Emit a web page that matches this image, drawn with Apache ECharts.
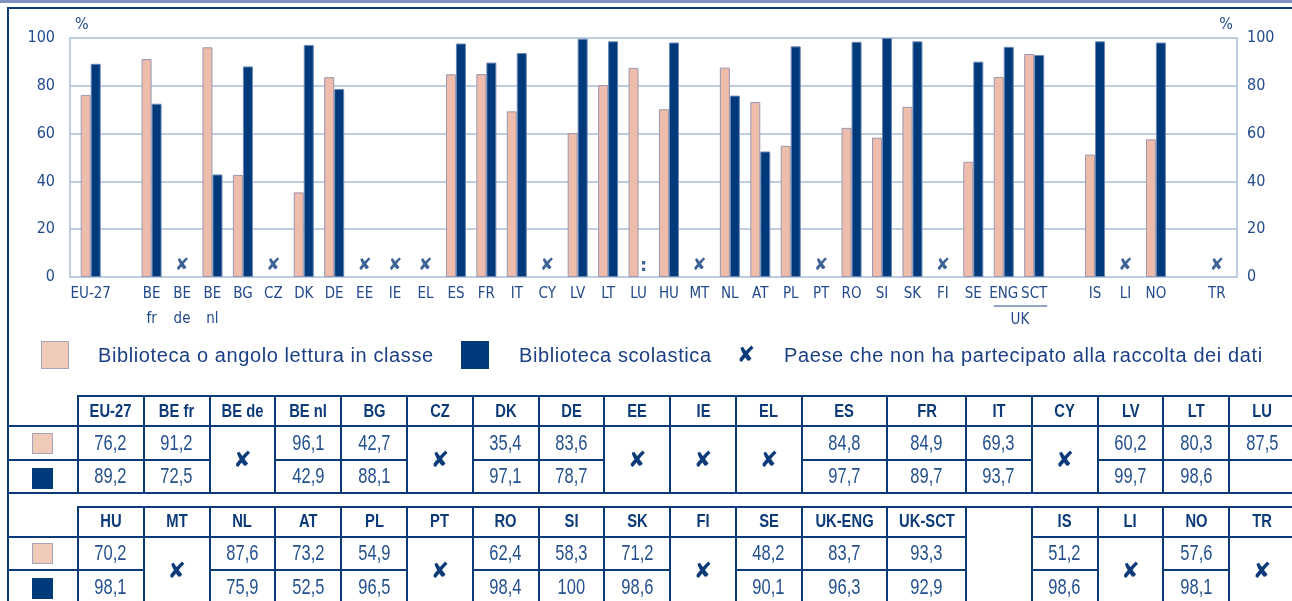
<!DOCTYPE html>
<html>
<head>
<meta charset="utf-8">
<script src="https://cdn.jsdelivr.net/npm/echarts@6/dist/echarts.min.js"></script>
<style>
  html, body { margin: 0; padding: 0; background: #fff; }
  body { width: 1292px; height: 601px; position: relative; overflow: hidden; }
  #chart { position: absolute; left: 0; top: 0; width: 1292px; height: 601px; }
  .ov { position: absolute; }
  .cell { position: absolute; display: flex; align-items: center; justify-content: center;
          font-family: 'Liberation Sans', Arial, sans-serif; color: #24508e; white-space: nowrap; }
  .cell span { display: inline-block; transform: scaleX(0.82); }
  .hd { font-weight: bold; font-size: 18px; color: #0d3b7a; }
  .val { font-size: 22px; }
  .val span { transform: scaleX(0.75); }
  .miss { font-family: 'DejaVu Sans', sans-serif; font-size: 22px; color: #0d3b7a; }
  .miss span { transform: none; }
  .legtxt { position: absolute; font-family: 'Liberation Sans', Arial, sans-serif; font-size: 20px;
            letter-spacing: 0.6px; color: #1a3f85; line-height: 28px; white-space: nowrap; }
</style>
</head>
<body>
<div id="chart"></div>
<div id="overlay"></div>
<script>
// chart data (gapN = empty slot on the axis)
var categories = ['EU-27', 'gap1', 'BE fr', 'BE de', 'BE nl', 'BG', 'CZ', 'DK', 'DE', 'EE', 'IE', 'EL',
  'ES', 'FR', 'IT', 'CY', 'LV', 'LT', 'LU', 'HU', 'MT', 'NL', 'AT', 'PL', 'PT', 'RO', 'SI', 'SK', 'FI',
  'SE', 'UK-ENG', 'UK-SCT', 'gap2', 'IS', 'LI', 'NO', 'gap3', 'TR'];

var classroom = [76.2, null, 91.2, null, 96.1, 42.7, null, 35.4, 83.6, null, null, null,
  84.8, 84.9, 69.3, null, 60.2, 80.3, 87.5, 70.2, null, 87.6, 73.2, 54.9, null, 62.4, 58.3, 71.2, null,
  48.2, 83.7, 93.3, null, 51.2, null, 57.6, null, null];

var school = [89.2, null, 72.5, null, 42.9, 88.1, null, 97.1, 78.7, null, null, null,
  97.7, 89.7, 93.7, null, 99.7, 98.6, null, 98.1, null, 75.9, 52.5, 96.5, null, 98.4, 100, 98.6, null,
  90.1, 96.3, 92.9, null, 98.6, null, 98.1, null, null];

var notParticipating = ['BE de', 'CZ', 'EE', 'IE', 'EL', 'CY', 'MT', 'PT', 'FI', 'LI', 'TR'];
var notAvailable = ['LU'];

var tableTop = ['EU-27', 'BE fr', 'BE de', 'BE nl', 'BG', 'CZ', 'DK', 'DE', 'EE', 'IE', 'EL',
  'ES', 'FR', 'IT', 'CY', 'LV', 'LT', 'LU'];
var tableBottom = ['HU', 'MT', 'NL', 'AT', 'PL', 'PT', 'RO', 'SI', 'SK', 'FI', 'SE',
  'UK-ENG', 'UK-SCT', 'gap2', 'IS', 'LI', 'NO', 'TR'];

var legendNames = ['Biblioteca o angolo lettura in classe', 'Biblioteca scolastica',
  'Paese che non ha partecipato alla raccolta dei dati'];

var axisNames = { 'BE fr': 'BE\nfr', 'BE de': 'BE\nde', 'BE nl': 'BE\nnl', 'UK-ENG': 'ENG', 'UK-SCT': 'SCT' };

var narrow = "'DejaVu Sans Condensed', 'DejaVu Sans', sans-serif";
var txtBlue = '#234a8c';
var gridCol = '#a9bcd8';

var chart = echarts.init(document.getElementById('chart'));

var option = {
  animation: false,
  grid: [
    { left: 75.5, right: 60, top: 38, bottom: 324 },
    { left: 70, right: 55, top: 38, bottom: 324 }
  ],
  xAxis: [
    {
      type: 'category', gridIndex: 0, data: categories,
      axisLine: { show: false }, axisTick: { show: false },
      axisLabel: {
        interval: 0, margin: 5, fontFamily: narrow, fontSize: 15, lineHeight: 25, color: txtBlue,
        formatter: function (v) {
          if (v.indexOf('gap') === 0) return '';
          return axisNames[v] || v;
        }
      }
    },
    { type: 'value', gridIndex: 1, show: false }
  ],
  yAxis: [
    { type: 'value', gridIndex: 0, min: 0, max: 100, show: false },
    {
      type: 'value', gridIndex: 1, min: 0, max: 100, interval: 20, position: 'left',
      axisLine: { show: true, lineStyle: { color: gridCol, width: 1.5 } },
      axisTick: { show: false },
      splitLine: { show: true, lineStyle: { color: gridCol, width: 1.5 } },
      axisLabel: { margin: 15, fontFamily: narrow, fontSize: 16, color: txtBlue, padding: [0, 0, 7, 0] },
      name: '%', nameLocation: 'end', nameGap: 5,
      nameTextStyle: { align: 'left', padding: [0, 0, 0, 5], fontFamily: narrow, fontSize: 16, color: txtBlue }
    },
    {
      type: 'value', gridIndex: 1, min: 0, max: 100, interval: 20, position: 'right',
      axisLine: { show: true, lineStyle: { color: gridCol, width: 1.5 } },
      axisTick: { show: false },
      splitLine: { show: false },
      axisLabel: { margin: 10, fontFamily: narrow, fontSize: 16, color: txtBlue, padding: [0, 0, 7, 0] },
      name: '%', nameLocation: 'end', nameGap: 5,
      nameTextStyle: { align: 'right', padding: [0, 4, 0, 0], fontFamily: narrow, fontSize: 16, color: txtBlue }
    }
  ],
  series: [
    {
      name: legendNames[0], type: 'bar', xAxisIndex: 0, yAxisIndex: 0,
      data: classroom, barWidth: 10, barGap: '0%',
      itemStyle: { color: '#eebcaa', borderColor: '#9c97b0', borderWidth: 1 }
    },
    {
      name: legendNames[1], type: 'bar', xAxisIndex: 0, yAxisIndex: 0,
      data: school, barWidth: 10,
      itemStyle: { color: '#003a7a', borderColor: '#6a86b4', borderWidth: 1 }
    },
    {
      name: legendNames[2], type: 'scatter', xAxisIndex: 0, yAxisIndex: 0, silent: true,
      data: notParticipating.map(function (c) { return [c, 0]; }),
      symbolSize: 1, itemStyle: { color: 'rgba(0,0,0,0)' },
      label: {
        show: true, position: 'inside', offset: [0, -11], formatter: '\u2718',
        fontFamily: 'DejaVu Sans', fontSize: 17, color: '#0d3b7a'
      }
    },
    {
      name: 'n.d.', type: 'scatter', xAxisIndex: 0, yAxisIndex: 0, silent: true,
      data: notAvailable.map(function (c) { return [c, 0]; }),
      symbolSize: 1, itemStyle: { color: 'rgba(0,0,0,0)' },
      label: {
        show: true, position: 'inside', offset: [5, -11], formatter: ':',
        fontFamily: 'DejaVu Sans', fontWeight: 'bold', fontSize: 18, color: '#0d3b7a'
      }
    }
  ]
};
chart.setOption(option);

// "UK" bracket under ENG / SCT
var engX = chart.convertToPixel({ xAxisIndex: 0 }, 'UK-ENG');
var sctX = chart.convertToPixel({ xAxisIndex: 0 }, 'UK-SCT');
chart.setOption({
  graphic: [
    { type: 'line', shape: { x1: engX - 10, y1: 306, x2: sctX + 13, y2: 306 },
      style: { stroke: txtBlue, lineWidth: 1 } },
    { type: 'text', x: (engX + sctX) / 2 + 1, y: 320,
      style: { text: 'UK', font: '15px ' + narrow, fill: txtBlue, align: 'center', verticalAlign: 'middle' } }
  ]
});

// frame, legend and data table (HTML)
var ov = document.getElementById('overlay');
function box(x, y, w, h, css) {
  var d = document.createElement('div');
  d.className = 'ov';
  d.style.cssText = 'left:' + x + 'px;top:' + y + 'px;width:' + w + 'px;height:' + h + 'px;' + (css || '');
  ov.appendChild(d);
  return d;
}
function hLine(x1, x2, y) { box(x1 - 1, y - 1, x2 - x1 + 2, 2, 'background:#0a3a78'); }
function vLine(x, y1, y2) { box(x - 1, y1 - 1, 2, y2 - y1 + 2, 'background:#0a3a78'); }
function text(x, y, w, h, cls, s) {
  var d = box(x, y, w, h);
  d.className = 'cell ' + cls;
  var sp = document.createElement('span');
  sp.textContent = s;
  d.appendChild(sp);
}

box(0, 0, 1292, 2.5, 'background:#7f93c0');
box(7, 6.5, 1285, 2, 'background:#0a3a78');
box(6.5, 6.5, 2, 600, 'background:#0a3a78');

// legend
box(41, 341, 26, 26, 'background:#f0cab9;border:1.5px solid #a6a3bb');
box(461, 341, 28, 28, 'background:#003a7a');
var lt = [[98, legendNames[0]], [519, legendNames[1]], [784, legendNames[2]]];
lt.forEach(function (t) {
  var d = box(t[0], 341, 520, 28);
  d.className = 'legtxt';
  d.textContent = t[1];
});
text(734, 340, 24, 28, 'miss', '\u2718');

var colW = [65.8, 65.8, 65.8, 65.8, 65.8, 65.8, 65.8, 65.8, 65.8, 65.8, 65.8, 85.2, 79,
  65.8, 65.8, 65.8, 65.8, 65.8];

function fmt(v) { return String(v).replace('.', ','); }

function buildTable(cols, top) {
  var xs = [78];
  colW.forEach(function (w, i) { xs.push(xs[i] + w); });
  var yH = top, y1 = top + 30, y2 = y1 + 33.5, yB = y2 + 33.5;
  hLine(78, xs[xs.length - 1], yH);
  hLine(8, 78, y1); hLine(8, 78, y2); hLine(8, 78, yB);
  cols.forEach(function (c, i) {
    var x = xs[i], w = colW[i];
    if (c.indexOf('gap') === 0) return;
    var k = categories.indexOf(c);
    hLine(x, x + w, y1);
    hLine(x, x + w, yB);
    text(x, yH, w, 30, 'hd', c);
    if (notParticipating.indexOf(c) >= 0) {
      text(x, y1, w, 67, 'miss', '\u2718');
      return;
    }
    hLine(x, x + w, y2);
    if (classroom[k] != null) text(x, y1, w, 33.5, 'val', fmt(classroom[k]));
    if (school[k] != null) text(x, y2, w, 33.5, 'val', fmt(school[k]));
  });
  xs.forEach(function (x) { vLine(x, yH, yB); });
  box(32, y1 + 6.5, 19, 19, 'background:#f0cab9;border:1px solid #a6a3bb');
  box(32, y2 + 8, 21, 21, 'background:#003a7a');
}
buildTable(tableTop, 396);
buildTable(tableBottom, 506.5);
</script>
</body>
</html>
